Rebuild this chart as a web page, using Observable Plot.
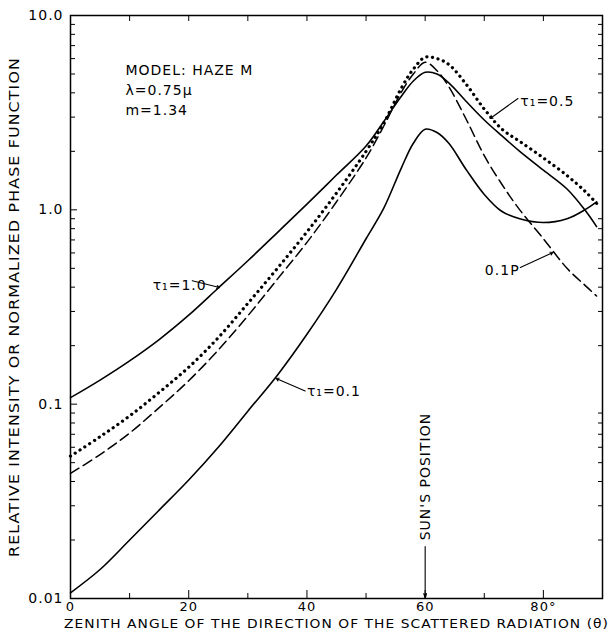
<!DOCTYPE html>
<html><head><meta charset="utf-8">
<script src="https://cdn.jsdelivr.net/npm/d3@7"></script>
<script src="https://cdn.jsdelivr.net/npm/@observablehq/plot@0.6"></script>
<style>body{margin:0;background:#fff}</style>
</head><body><div id="chart"></div>
<script>
// Zenith angle (degrees)
const theta = [0,5,10,15,20,25,30,35,40,45,50,53,56,58,60,62,64,67,70,73,76,80,84,87,89];
// tau1 = 1.0 (solid)
const tau10 = [0.108,0.133,0.167,0.215,0.287,0.396,0.547,0.764,1.07,1.51,2.13,2.85,3.85,4.6,5.1,5.0,4.5,3.6,2.9,2.4,2.0,1.6,1.28,1.0,0.82];
// tau1 = 0.5 (dotted)
const tau05 = [0.054,0.068,0.087,0.115,0.155,0.22,0.33,0.5,0.77,1.22,2.0,2.8,4.25,5.3,6.1,6.0,5.6,4.4,3.3,2.6,2.25,1.85,1.5,1.25,1.08];
// 0.1 P (dashed)
const phase01 = [0.044,0.055,0.071,0.096,0.132,0.19,0.285,0.44,0.68,1.1,1.85,2.7,4.05,5.0,5.75,5.2,4.3,2.9,1.9,1.35,1.0,0.71,0.5,0.41,0.36];
// tau1 = 0.1 (solid)
const tau01 = [0.0107,0.0141,0.020,0.0285,0.0407,0.060,0.092,0.141,0.229,0.39,0.71,1.02,1.65,2.2,2.6,2.5,2.2,1.6,1.2,0.98,0.9,0.86,0.9,1.0,1.1];

const xMajorTicks = [0,20,40,60,80];
const xLabels = ["0","20","40","60","80°"];
const xMinorTicks = [10,30,50,70];
const xTopTicks = [10,20,30,40,50,60,70,80];
const yLabelTicks = [0.01,0.1,1,10];
const yLabels = ["0.01","0.1","1.0","10.0"];
const yMinorTicks = [0.02,0.03,0.04,0.05,0.06,0.07,0.08,0.09,0.2,0.3,0.4,0.5,0.6,0.7,0.8,0.9,2,3,4,5,6,7,8,9];

const xTitle = "ZENITH ANGLE OF THE DIRECTION OF THE SCATTERED RADIATION (θ)";
const yTitle = "RELATIVE INTENSITY OR NORMALIZED PHASE FUNCTION";

const labels = [
  {x: 9.3, y: 4.2, text: "MODEL: HAZE M\nλ=0.75μ\nm=1.34"},
  {x: 13.9, y: 0.418, text: "τ₁=1.0"},
  {x: 76.1, y: 3.7, text: "τ₁=0.5"},
  {x: 40.0, y: 0.119, text: "τ₁=0.1"},
  {x: 70.1, y: 0.5, text: "0.1P"}
];
const leaders = [
  {x1: 20.6, y1: 0.432, x2: 25.2, y2: 0.398},
  {x1: 75.7, y1: 3.74, x2: 71.0, y2: 2.95},
  {x1: 39.7, y1: 0.117, x2: 34.8, y2: 0.1355},
  {x1: 76.1, y1: 0.505, x2: 81.6, y2: 0.603}
];
const sun = [{x: 60, y: 0.0424, text: "SUN'S POSITION", y1: 0.0185, y2: 0.01}];

const mk = (vals) => theta.map((t, i) => ({theta: t, value: vals[i]}));

const chart = Plot.plot({
  width: 610, height: 638,
  marginLeft: 70, marginRight: 8, marginTop: 15, marginBottom: 40,
  style: {fontFamily: "DejaVu Sans", fontSize: "13px", color: "black", background: "white", letterSpacing: "1px"},
  x: {domain: [0, 90]},
  y: {type: "log", domain: [0.01, 10]},
  marks: [
    Plot.axisX({ticks: xMinorTicks, tickSize: -5, tickFormat: () => "", label: null}),
    Plot.axisX({ticks: xMajorTicks, tickSize: -8, tickFormat: () => "", label: null}),
    Plot.axisX({anchor: "top", ticks: xTopTicks, tickSize: -5, tickFormat: () => "", label: null}),
    Plot.axisY({ticks: yMinorTicks, tickSize: -5, tickFormat: () => "", label: null}),
    Plot.axisY({ticks: yLabelTicks, tickSize: -7, tickFormat: () => "", label: null}),
    Plot.axisY({anchor: "right", ticks: yMinorTicks, tickSize: -5, tickFormat: () => "", label: null}),
    Plot.frame({stroke: "black", strokeWidth: 1.5}),
    Plot.text(xMajorTicks, {x: d => d, text: (d, i) => xLabels[i], frameAnchor: "bottom", dy: 12, fontSize: 13}),
    Plot.text(yLabelTicks, {y: d => d, text: (d, i) => yLabels[i], frameAnchor: "left", textAnchor: "end", dx: -7, fontSize: 14}),
    Plot.line(mk(tau10), {x: "theta", y: "value", curve: "catmull-rom", stroke: "black", strokeWidth: 1.6}),
    Plot.line(mk(tau01), {x: "theta", y: "value", curve: "catmull-rom", stroke: "black", strokeWidth: 1.6}),
    Plot.line(mk(phase01), {x: "theta", y: "value", curve: "catmull-rom", stroke: "black", strokeWidth: 1.5, strokeDasharray: "10 5"}),
    Plot.line(mk(tau05), {x: "theta", y: "value", curve: "catmull-rom", stroke: "black", strokeWidth: 3.2, strokeDasharray: "0.1 5.6", strokeLinecap: "round"}),
    Plot.text(labels, {x: "x", y: "y", text: "text", textAnchor: "start", lineHeight: 1.45, fontSize: 14}),
    Plot.arrow(leaders, {x1: "x1", y1: "y1", x2: "x2", y2: "y2", stroke: "black", strokeWidth: 1.1, headLength: 4}),
    Plot.text(sun, {x: "x", y: "y", text: "text", rotate: -90, fontSize: 14}),
    Plot.arrow(sun, {x1: "x", x2: "x", y1: "y1", y2: "y2", stroke: "black", strokeWidth: 1.1, headLength: 7, headAngle: 30}),
    Plot.text([xTitle], {frameAnchor: "bottom", dy: 29, fontSize: 13}),
    Plot.text([yTitle], {frameAnchor: "left", textAnchor: "middle", dx: -56, rotate: -90, fontSize: 14})
  ]
});
// stretch the long titles to the reference's lettered width
d3.select(chart).selectAll("text").each(function() {
  const t = this.textContent;
  if (t === xTitle) { this.setAttribute("textLength", 545); this.setAttribute("lengthAdjust", "spacingAndGlyphs"); }
  if (t === yTitle) { this.setAttribute("textLength", 500); this.setAttribute("lengthAdjust", "spacingAndGlyphs"); }
});
document.getElementById("chart").appendChild(chart);
</script>
</body></html>
